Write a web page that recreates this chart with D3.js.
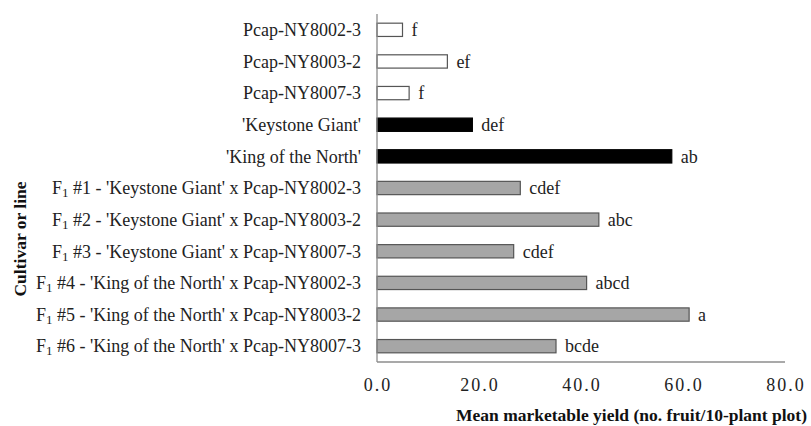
<!DOCTYPE html>
<html>
<head>
<meta charset="utf-8">
<script src="https://cdn.jsdelivr.net/npm/d3@7"></script>
<style>
  body { margin: 0; background: #fff; }
</style>
</head>
<body>
<div id="chart"></div>
<script>
// categories, top to bottom
var lines = [
  "Pcap-NY8002-3",
  "Pcap-NY8003-2",
  "Pcap-NY8007-3",
  "'Keystone Giant'",
  "'King of the North'",
  "F1 #1 - 'Keystone Giant' x Pcap-NY8002-3",
  "F1 #2 - 'Keystone Giant' x Pcap-NY8003-2",
  "F1 #3 - 'Keystone Giant' x Pcap-NY8007-3",
  "F1 #4 - 'King of the North' x Pcap-NY8002-3",
  "F1 #5 - 'King of the North' x Pcap-NY8003-2",
  "F1 #6 - 'King of the North' x Pcap-NY8007-3"
];
var yields = [5.0, 13.8, 6.3, 18.7, 57.8, 28.1, 43.5, 26.8, 41.1, 61.2, 35.1];
var letters = ["f", "ef", "f", "def", "ab", "cdef", "abc", "cdef", "abcd", "a", "bcde"];
var groups = ["wild", "wild", "wild", "cultivar", "cultivar", "hybrid", "hybrid", "hybrid", "hybrid", "hybrid", "hybrid"];
var xTicks = [0, 20, 40, 60, 80];

var width = 811,
    height = 426,
    serif = "'Liberation Serif', 'Times New Roman', Times, 'DejaVu Serif', serif";

var svg = d3.select("#chart")
  .append("svg")
    .attr("width", width)
    .attr("height", height)
    .style("font-family", serif);

var x = d3.scaleLinear()
  .domain([0, 80])
  .range([377, 785]);

var y = d3.scaleBand()
  .domain(lines)
  .range([14, 362])
  .paddingInner(0.58)
  .paddingOuter(0.29);

var fill = d3.scaleOrdinal()
  .domain(["wild", "cultivar", "hybrid"])
  .range(["#ffffff", "#000000", "#a6a6a6"]);

// bars
svg.selectAll("rect.bar")
  .data(lines)
  .enter()
  .append("rect")
    .attr("class", "bar")
    .attr("x", x(0))
    .attr("y", d => y(d))
    .attr("width", (d, i) => x(yields[i]) - x(0))
    .attr("height", y.bandwidth())
    .attr("fill", (d, i) => fill(groups[i]))
    .attr("stroke", (d, i) => groups[i] == "cultivar" ? "#000" : "#555")
    .attr("stroke-width", 1.2);

// significance letters
svg.selectAll("text.letter")
  .data(lines)
  .enter()
  .append("text")
    .attr("class", "letter")
    .attr("x", (d, i) => x(yields[i]) + 9)
    .attr("y", d => y(d) + y.bandwidth() / 2)
    .attr("dy", "0.35em")
    .attr("fill", "#222")
    .style("font-size", "18px")
    .text((d, i) => letters[i]);

// category labels (F1 with subscript)
var cat = svg.selectAll("text.cat")
  .data(lines)
  .enter()
  .append("text")
    .attr("class", "cat")
    .attr("x", 361)
    .attr("y", d => y(d) + y.bandwidth() / 2)
    .attr("dy", "0.35em")
    .attr("text-anchor", "end")
    .attr("fill", "#222")
    .style("font-size", "18px");

cat.each(function(d) {
  var t = d3.select(this);
  if (d.startsWith("F1")) {
    t.append("tspan").text("F");
    t.append("tspan").attr("dy", "3").style("font-size", "13px").text("1");
    t.append("tspan").attr("dy", "-3").text(d.slice(2));
  } else {
    t.text(d);
  }
});

// axes lines
svg.append("line")
  .attr("x1", x(0)).attr("x2", x(0))
  .attr("y1", 14).attr("y2", 362)
  .attr("stroke", "#8c8c8c").attr("stroke-width", 1.3);

svg.append("line")
  .attr("x1", x(0)).attr("x2", x(80))
  .attr("y1", 362).attr("y2", 362)
  .attr("stroke", "#8c8c8c").attr("stroke-width", 1.3);

// x tick labels
svg.selectAll("text.tick")
  .data(xTicks)
  .enter()
  .append("text")
    .attr("class", "tick")
    .attr("x", d => x(d) + 1)
    .attr("y", 385)
    .attr("dy", "0.35em")
    .attr("text-anchor", "middle")
    .attr("fill", "#222")
    .style("font-size", "18px")
    .style("letter-spacing", "2px")
    .text(d => d3.format(".1f")(d));

// axis titles
svg.append("text")
  .attr("x", 807)
  .attr("y", 415)
  .attr("dy", "0.35em")
  .attr("text-anchor", "end")
  .attr("fill", "#111")
  .style("font-size", "17.5px")
  .style("font-weight", "bold")
  .text("Mean marketable yield (no. fruit/10-plant plot)");

svg.append("text")
  .attr("transform", "translate(20,239) rotate(-90)")
  .attr("dy", "0.35em")
  .attr("text-anchor", "middle")
  .attr("fill", "#111")
  .style("font-size", "17.5px")
  .style("font-weight", "bold")
  .text("Cultivar or line");
</script>
</body>
</html>
